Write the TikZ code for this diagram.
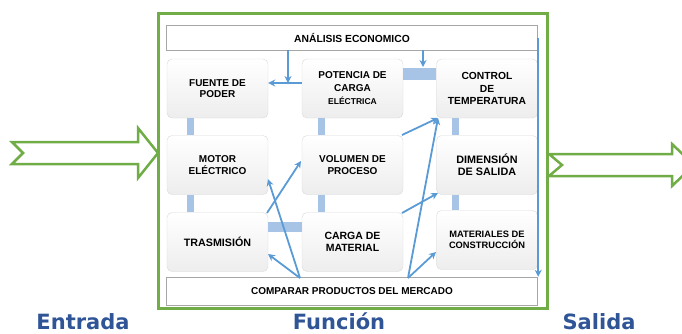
\documentclass[tikz,border=0pt]{standalone}
\usepackage{fontspec}
\setmainfont{Liberation Sans}
\newfontfamily\labfont{DejaVu Sans}
\usetikzlibrary{arrows.meta}
\definecolor{grn}{HTML}{70AD47}
\definecolor{arr}{HTML}{5B9BD5}
\definecolor{barc}{HTML}{A7C4E6}
\definecolor{labc}{HTML}{2F5597}
\tikzset{
  bx/.style={draw=gray!30, rounded corners=5pt, top color=white, bottom color=gray!14,
    minimum width=101pt, minimum height=59pt, align=center, inner sep=0pt,
    font=\bfseries\fontsize{10}{11.5}\selectfont},
  wide/.style={draw=gray!70, fill=white, minimum width=371pt, inner sep=0pt,
    font=\bfseries\fontsize{10.3}{12}\selectfont},
  con/.style={arr, line width=1.8pt, -{Stealth[length=7pt,width=7pt]}},
  vbar/.style={barc, line width=7pt},
  hollow/.style={draw=grn, line width=2.5pt, fill=white, line join=miter},
  bottomlab/.style={text=labc, font=\labfont\bfseries\fontsize{21}{24}\selectfont, anchor=base, inner sep=0pt}
}
\begin{document}
\begin{tikzpicture}[x=1pt,y=-1pt]
\useasboundingbox (0,0) rectangle (682,333);
\begin{scope}
\clip (0,0) rectangle (682,333);
% big hollow arrows
\draw[hollow] (12,142) -- (138,142) -- (138,128) -- (158,153) -- (138,178) -- (138,164) -- (12,164) -- (23,153) -- cycle;
\draw[hollow] (549,154) -- (672,154) -- (672,144) -- (694,165) -- (672,186) -- (672,176) -- (549,176) -- (562,165) -- cycle;
\end{scope}
% frame
\draw[grn, line width=3.5pt] (158.5,13.5) rectangle (547.5,308.5);

% wide boxes
\node[wide, minimum height=25pt] (anal) at (352,37.5) {ANÁLISIS ECONOMICO};
\node[wide, minimum height=28pt, font=\bfseries\fontsize{10}{12}\selectfont] (comp) at (352,291) {COMPARAR PRODUCTOS DEL MERCADO};

% process boxes
\node[bx] (fuente) at (217.5,88.5) {FUENTE DE\\PODER};
\node[bx] (motor) at (217.5,165) {MOTOR\\ELÉCTRICO};
\node[bx, font=\bfseries\fontsize{10.7}{12}\selectfont] (tras) at (217.5,242) {TRASMISIÓN};
\node[bx, font=\bfseries\fontsize{10}{13}\selectfont] (pot) at (352.5,88.5) {POTENCIA DE\\CARGA\\{\fontsize{8.5}{13}\selectfont ELÉCTRICA}};
\node[bx] (vol) at (352.5,165) {VOLUMEN DE\\PROCESO};
\node[bx, font=\bfseries\fontsize{10.5}{12}\selectfont] (carga) at (352.5,242) {CARGA DE\\MATERIAL};
\node[bx, font=\bfseries\fontsize{10.3}{12.5}\selectfont] (ctrl) at (487,88.5) {CONTROL\\DE\\TEMPERATURA};
\node[bx, font=\bfseries\fontsize{10.8}{12.5}\selectfont] (dim) at (487,165) {DIMENSIÓN\\DE SALIDA};
\node[bx, font=\bfseries\fontsize{9.3}{11}\selectfont] (mat) at (487,240) {MATERIALES DE\\CONSTRUCCIÓN};

% connecting bars
\draw[vbar] ([xshift=-27.5pt]fuente.south) -- ([xshift=-27.5pt]motor.north);
\draw[vbar] ([xshift=-27.5pt]motor.south) -- ([xshift=-27.5pt]tras.north);
\draw[vbar] ([xshift=-31pt]pot.south) -- ([xshift=-31pt]vol.north);
\draw[vbar] ([xshift=-31pt]vol.south) -- ([xshift=-31pt]carga.north);
\draw[vbar] ([xshift=-32pt]ctrl.south) -- ([xshift=-32pt]dim.north);
\draw[vbar] ([xshift=-32pt]dim.south) -- ([xshift=-32pt]mat.north);
\draw[barc, line width=12pt] ([yshift=15pt]pot.east) -- ([yshift=15pt]ctrl.west);
\draw[barc, line width=10pt] ([yshift=15.5pt]tras.east) -- ([yshift=15.5pt]carga.west);

% blue arrows
\coordinate (j1) at (288,83);
\draw[con] (anal.south -| j1) -- (j1);
\draw[con] (pot.west |- j1) -- (fuente.east |- j1);
\coordinate (pctop) at (423,67);
\draw[con] (anal.south -| pctop) -- (pctop);
\draw[con] ([xshift=0.5pt]anal.east) -- ([xshift=0.5pt]anal.east |- comp.north);
\coordinate (cl) at (300,278);
\coordinate (cr) at (408,278);
\coordinate (mt) at (268,179);
\coordinate (tt) at (268,254);
\coordinate (ts) at (267,213);
\coordinate (vt) at (301,161);
\coordinate (vs) at (402,135);
\coordinate (ct) at (438,118);
\coordinate (cs) at (402,213);
\coordinate (dt) at (438,193);
\coordinate (mtt) at (436,252);
\draw[con] (cl) -- (mt);
\draw[con] (cl) -- (tt);
\draw[con] (ts) -- (vt);
\draw[con] (vs) -- (ct);
\draw[con] (cr) -- (ct);
\draw[con] (cs) -- (dt);
\draw[con] (cr) -- (mtt);

% bottom labels
\node[bottomlab] (ent) at (83,329.5) {Entrada};
\node[bottomlab] (fun) at (339,329.5) {Función};
\node[bottomlab] (sal) at (599,329.5) {Salida};
\end{tikzpicture}
\end{document}
